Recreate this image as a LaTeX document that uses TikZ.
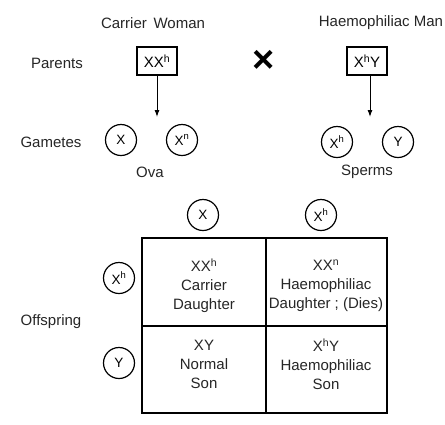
\documentclass[tikz,border=0pt]{standalone}
\usepackage{fontspec}
\setmainfont{Liberation Sans}
\usetikzlibrary{arrows.meta}
\begin{document}
\begin{tikzpicture}[x=1pt,y=-1pt,
  lbl/.style={font=\fontsize{15}{18}\selectfont, text=black!85},
  gbox/.style={draw, line width=1.3pt, minimum width=40pt, minimum height=28pt, inner sep=1pt, font=\fontsize{15}{18}\selectfont},
  gam/.style={draw, circle, line width=1.2pt, minimum size=31pt, inner sep=0pt, font=\fontsize{13.5}{16}\selectfont},
  cell/.style={align=center, font=\fontsize{15}{19}\selectfont, text=black!85},
  arr/.style={-{Latex[length=7pt,width=5pt]}, line width=1pt}]
\useasboundingbox (0,0) rectangle (445,424);
\fill[white] (0,0) rectangle (445,424);
% titles
\node[lbl] (cw) at (153,23) {Carrier\, Woman};
\node[lbl] (hm) at (381,23) {Haemophiliac Man};
\node[lbl] (par) at (57,63) {Parents};
\node[gbox] (p1) at (157,61) {XX\textsuperscript{h}};
\node[font=\fontsize{38}{38}\selectfont\bfseries, inner sep=0pt] (cross) at (264,61) {×};
\node[gbox] (p2) at (367,61) {X\textsuperscript{h}Y};
% gametes
\node[lbl] (gam) at (51,142) {Gametes};
\node[gam] (o1) at (121,140) {X};
\node[gam] (o2) at (182,140) {X\textsuperscript{n}};
\node[gam] (s1) at (337,142) {X\textsuperscript{h}};
\node[gam] (s2) at (398,142) {Y};
\coordinate (a1) at (157,117);
\coordinate (a2) at (370,117);
\draw[arr] (p1.south) -- (a1);
\draw[arr] (p2.south -| a2) -- (a2);
\node[lbl] (ova) at (150,172) {Ova};
\node[lbl] (sp) at (367,172) {Sperms};
% punnett
\node[gam] (t1) at (203,215) {X};
\node[gam] (t2) at (321,215) {X\textsuperscript{h}};
\node[gam] (l1) at (119,278) {X\textsuperscript{h}};
\node[gam] (l2) at (119,363) {Y};
\node[lbl] (off) at (51,322) {Offspring};
\draw[line width=1.4pt] (142,238) rectangle (387,413);
\draw[line width=1.4pt] (266,238) -- (266,413);
\draw[line width=1.4pt] (142,326) -- (387,326);
\node[cell] (c1) at (204,286) {XX\textsuperscript{h}\\Carrier\\Daughter};
\node[cell] (c2) at (326,286) {XX\textsuperscript{n}\\Haemophiliac\\Daughter ; (Dies)};
\node[cell] (c3) at (204,364) {XY\\Normal\\Son};
\node[cell] (c4) at (326,364) {X\textsuperscript{h}Y\\Haemophiliac\\Son};
\end{tikzpicture}
\end{document}
